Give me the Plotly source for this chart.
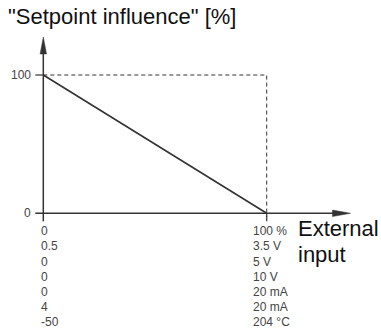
import plotly.graph_objects as go

# Characteristic: setpoint influence falls linearly as the external input rises
input_pct = [0, 100]
influence_pct = [100, 0]

# Scale labels for each input type (min / max)
scale_min = ["0", "0.5", "0", "0", "0", "4", "-50"]
scale_max = ["100 %", "3.5 V", "5 V", "10 V", "20 mA", "20 mA", "204 °C"]

y_ticks = [0, 100]

W, H = 381, 331
X_RANGE = [-19.38, 151.16]
Y_RANGE = [-85.1, 154.23]
X_END = 137.5      # tip of the x-axis arrow
Y_END = 127.5      # tip of the y-axis arrow

px_x = W / (X_RANGE[1] - X_RANGE[0])
px_y = H / (Y_RANGE[1] - Y_RANGE[0])


def dx(p):
    return p / px_x


def dy(p):
    return p / px_y


AXIS = "#333333"
TXT = "#444444"
FONT = "Liberation Sans, Arial, sans-serif"

fig = go.Figure()

# reference box (dashed)
fig.add_trace(go.Scatter(
    x=[input_pct[0], input_pct[1], input_pct[1]],
    y=[influence_pct[0], influence_pct[0], influence_pct[1] - dy(4)],
    mode="lines", line=dict(color=AXIS, width=1, dash="4px,3px"),
    hoverinfo="skip", showlegend=False))

# axes
fig.add_trace(go.Scatter(
    x=[-dx(8), X_END - dx(10)], y=[0, 0], mode="lines",
    line=dict(color=AXIS, width=1.5), hoverinfo="skip", showlegend=False))
fig.add_trace(go.Scatter(
    x=[0, 0], y=[-dy(8), Y_END - dy(10)], mode="lines",
    line=dict(color=AXIS, width=1.5), hoverinfo="skip", showlegend=False))

# tick marks
fig.add_trace(go.Scatter(
    x=[-dx(8), 0], y=[y_ticks[1], y_ticks[1]], mode="lines",
    line=dict(color=AXIS, width=1.2), hoverinfo="skip", showlegend=False))
fig.add_trace(go.Scatter(
    x=[input_pct[1], input_pct[1]], y=[0, -dy(8)], mode="lines",
    line=dict(color=AXIS, width=1.2), hoverinfo="skip", showlegend=False))

# arrow heads
fig.add_trace(go.Scatter(
    x=[X_END, X_END - dx(18), X_END - dx(18), X_END],
    y=[0, dy(3.2), -dy(3.2), 0],
    mode="lines", fill="toself", fillcolor=AXIS, line=dict(color=AXIS, width=0.5),
    hoverinfo="skip", showlegend=False))
fig.add_trace(go.Scatter(
    x=[0, -dx(3.2), dx(3.2), 0],
    y=[Y_END, Y_END - dy(17), Y_END - dy(17), Y_END],
    mode="lines", fill="toself", fillcolor=AXIS, line=dict(color=AXIS, width=0.5),
    hoverinfo="skip", showlegend=False))

# characteristic line
fig.add_trace(go.Scatter(
    x=input_pct, y=influence_pct, mode="lines",
    line=dict(color=AXIS, width=1.6), hoverinfo="skip", showlegend=False))

ann = []
# y tick labels
for v in y_ticks:
    ann.append(dict(x=0, y=v, xref="x", yref="y", text=str(v), showarrow=False,
                    xanchor="right", yanchor="middle", xshift=-10,
                    font=dict(family=FONT, size=12, color=TXT)))

# input scale labels
for i, (lo, hi) in enumerate(zip(scale_min, scale_max)):
    ys = -(18 + 15.17 * i)
    ann.append(dict(x=0, y=0, xref="x", yref="y", text=lo, showarrow=False,
                    xanchor="left", yanchor="middle", xshift=-4, yshift=ys,
                    font=dict(family=FONT, size=12, color=TXT)))
    ann.append(dict(x=input_pct[1], y=0, xref="x", yref="y", text=hi, showarrow=False,
                    xanchor="left", yanchor="middle", xshift=-16, yshift=ys,
                    font=dict(family=FONT, size=12, color=TXT)))

# axis titles
ann.append(dict(x=input_pct[1], y=0, xref="x", yref="y", text="External",
                showarrow=False, xanchor="left", yanchor="middle",
                xshift=29, yshift=-15, font=dict(family=FONT, size=22, color="#111111")))
ann.append(dict(x=input_pct[1], y=0, xref="x", yref="y", text="input",
                showarrow=False, xanchor="left", yanchor="middle",
                xshift=29, yshift=-41, font=dict(family=FONT, size=22, color="#111111")))
ann.append(dict(x=0, y=1, xref="paper", yref="paper", text='"Setpoint influence" [%]',
                showarrow=False, xanchor="left", yanchor="middle",
                xshift=6, yshift=-16, font=dict(family=FONT, size=22, color="#111111")))

fig.update_layout(
    width=W, height=H, margin=dict(l=0, r=0, t=0, b=0),
    paper_bgcolor="white", plot_bgcolor="white",
    xaxis=dict(range=X_RANGE, visible=False, fixedrange=True),
    yaxis=dict(range=Y_RANGE, visible=False, fixedrange=True),
    annotations=ann, showlegend=False,
)

fig.write_html("out.html")
